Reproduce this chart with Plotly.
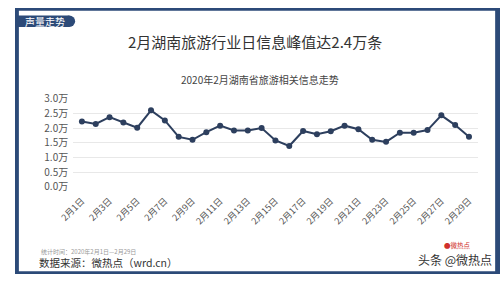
import plotly.graph_objects as go

days = [f"2月{d}日" for d in range(1, 30)]
values = [2.22, 2.14, 2.37, 2.19, 2.01, 2.60, 2.26, 1.70, 1.60, 1.86,
          2.08, 1.92, 1.92, 2.00, 1.58, 1.39, 1.90, 1.79, 1.89, 2.08,
          1.96, 1.60, 1.53, 1.84, 1.84, 1.93, 2.43, 2.10, 1.70]
ytick_vals = [0, 0.5, 1.0, 1.5, 2.0, 2.5, 3.0]
ytick_text = ["0.0万", "0.5万", "1.0万", "1.5万", "2.0万", "2.5万", "3.0万"]
xtick_labels = days[::2]

W, H = 500, 281
FONT = "Noto Sans CJK SC"
NAVY = "#2c4a78"


def px(x):
    return x / W


def py(y):
    return 1 - y / H


fig = go.Figure()
fig.add_trace(go.Scatter(
    x=list(range(len(days))), y=values, mode="lines+markers",
    line=dict(color="#2d3f5e", width=2),
    marker=dict(color="#2d3f5e", size=6),
    hoverinfo="skip", showlegend=False,
))

shapes = [
    # frame
    dict(type="rect", xref="paper", yref="paper", x0=0, x1=1, y0=py(3), y1=1, fillcolor=NAVY, line_width=0, layer="above"),
    dict(type="rect", xref="paper", yref="paper", x0=0, x1=1, y0=0, y1=py(278), fillcolor=NAVY, line_width=0, layer="above"),
    dict(type="rect", xref="paper", yref="paper", x0=0, x1=px(4), y0=0, y1=1, fillcolor=NAVY, line_width=0, layer="above"),
    dict(type="rect", xref="paper", yref="paper", x0=px(495), x1=1, y0=0, y1=1, fillcolor=NAVY, line_width=0, layer="above"),
    # tab
    dict(type="rect", xref="paper", yref="paper", x0=px(3), x1=px(56), y0=py(20), y1=py(8), fillcolor=NAVY, line_width=0, layer="above"),
    dict(type="circle", xref="paper", yref="paper", x0=px(50), x1=px(62), y0=py(20), y1=py(8), fillcolor=NAVY, line_width=0, layer="above"),
]

annotations = [
    dict(text="声量走势", x=px(8), y=py(14), xref="paper", yref="paper", xanchor="left", yanchor="middle",
         showarrow=False, font=dict(family=FONT, size=10, color="white")),
    dict(text="2月湖南旅游行业日信息峰值达2.4万条", x=px(247), y=py(35), xref="paper", yref="paper",
         xanchor="center", yanchor="middle", showarrow=False, font=dict(family=FONT, size=15, color="#333333")),
    dict(text="2020年2月湖南省旅游相关信息走势", x=px(253), y=py(76), xref="paper", yref="paper",
         xanchor="center", yanchor="middle", showarrow=False, font=dict(family=FONT, size=10, color="#444444")),
    dict(text="统计时间：2020年2月1日—2月29日", x=px(25), y=py(257), xref="paper", yref="paper",
         xanchor="left", yanchor="middle", showarrow=False, font=dict(family=FONT, size=6, color="#999999")),
    dict(text="数据来源：微热点（wrd.cn）", x=px(23), y=py(269), xref="paper", yref="paper",
         xanchor="left", yanchor="middle", showarrow=False, font=dict(family=FONT, size=10.5, color="#333333")),
    dict(text="头条 @微热点", x=px(494), y=py(266), xref="paper", yref="paper",
         xanchor="right", yanchor="middle", showarrow=False, font=dict(family=FONT, size=12, color="#333333")),
    dict(text="●微热点", x=px(472), y=py(250), xref="paper", yref="paper",
         xanchor="right", yanchor="middle", showarrow=False, font=dict(family=FONT, size=6.5, color="#d0312d")),
]

fig.update_layout(
    width=W, height=H, margin=dict(l=0, r=0, t=0, b=0),
    paper_bgcolor="white", plot_bgcolor="white",
    shapes=shapes, annotations=annotations,
    font=dict(family=FONT),
    xaxis=dict(domain=[px(60), px(477)], range=[-0.63, 28.63],
               tickmode="array", tickvals=list(range(0, 29, 2)), ticktext=xtick_labels,
               tickangle=-45, tickfont=dict(family=FONT, size=9, color="#555555"),
               showgrid=False, zeroline=False, showline=False, ticks="", ticklabelstandoff=6),
    yaxis=dict(domain=[py(189), py(95.7)], range=[0, 3.0],
               tickmode="array", tickvals=ytick_vals, ticktext=ytick_text,
               tickfont=dict(family=FONT, size=10, color="#555555"),
               showgrid=True, gridcolor="#e8e8e8", gridwidth=1, zeroline=False, showline=False,
               ticks="", ticklabelstandoff=4),
)

fig.write_html("out.html")
